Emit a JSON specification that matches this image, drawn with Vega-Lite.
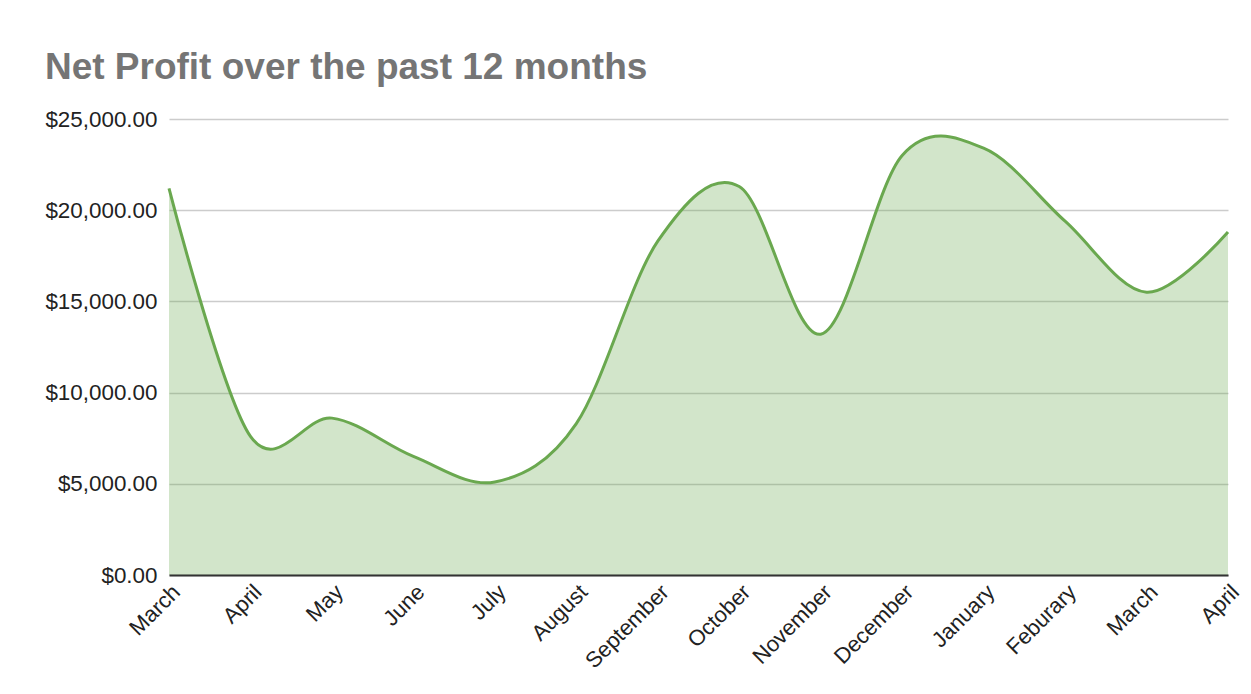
{
  "$schema": "https://vega.github.io/schema/vega-lite/v6.json",
  "autosize": {"type": "none"},
  "width": 1059,
  "height": 456,
  "padding": {"left": 169, "top": 119, "right": 23, "bottom": 119},
  "background": "#ffffff",
  "config": {"view": {"stroke": null}},
  "title": {
    "text": "Net Profit over the past 12 months",
    "anchor": "start",
    "frame": "bounds",
    "font": "Liberation Sans",
    "fontSize": 37,
    "fontWeight": "bold",
    "color": "#757575",
    "offset": 21
  },
  "data": {
    "values": [
      {"period": "March 2022", "profit": 21200},
      {"period": "April 2022", "profit": 7600},
      {"period": "May 2022", "profit": 8600},
      {"period": "June 2022", "profit": 6500},
      {"period": "July 2022", "profit": 5100},
      {"period": "August 2022", "profit": 8300},
      {"period": "September 2022", "profit": 18300},
      {"period": "October 2022", "profit": 21300},
      {"period": "November 2022", "profit": 13200},
      {"period": "December 2022", "profit": 23000},
      {"period": "January 2023", "profit": 23400},
      {"period": "Feburary 2023", "profit": 19400},
      {"period": "March 2023", "profit": 15500},
      {"period": "April 2023", "profit": 18800}
    ]
  },
  "encoding": {
    "x": {
      "field": "period",
      "type": "ordinal",
      "sort": null,
      "scale": {"type": "point", "padding": 0},
      "axis": {
        "title": null,
        "labelExpr": "split(datum.label, ' ')[0]",
        "labelAngle": -45,
        "labelFont": "Liberation Sans",
        "labelFontSize": 22,
        "labelColor": "#222222",
        "labelPadding": 6,
        "ticks": false,
        "tickSize": 0,
        "domain": true,
        "domainColor": "#333333",
        "domainWidth": 2,
        "grid": false,
        "zindex": 1
      }
    },
    "y": {
      "field": "profit",
      "type": "quantitative",
      "scale": {"domain": [0, 25000], "nice": false},
      "axis": {
        "title": null,
        "values": [0, 5000, 10000, 15000, 20000, 25000],
        "format": "$,.2f",
        "labelFont": "Liberation Sans",
        "labelFontSize": 22.4,
        "labelColor": "#222222",
        "labelPadding": 12,
        "ticks": false,
        "tickSize": 0,
        "domain": false,
        "grid": true,
        "gridColor": "#cccccc",
        "gridWidth": 1.5
      }
    }
  },
  "layer": [
    {
      "mark": {
        "type": "area",
        "interpolate": "cardinal",
        "color": "#6aa84f",
        "opacity": 0.3
      }
    },
    {
      "mark": {
        "type": "line",
        "interpolate": "cardinal",
        "color": "#6aa84f",
        "strokeWidth": 3
      }
    }
  ]
}
